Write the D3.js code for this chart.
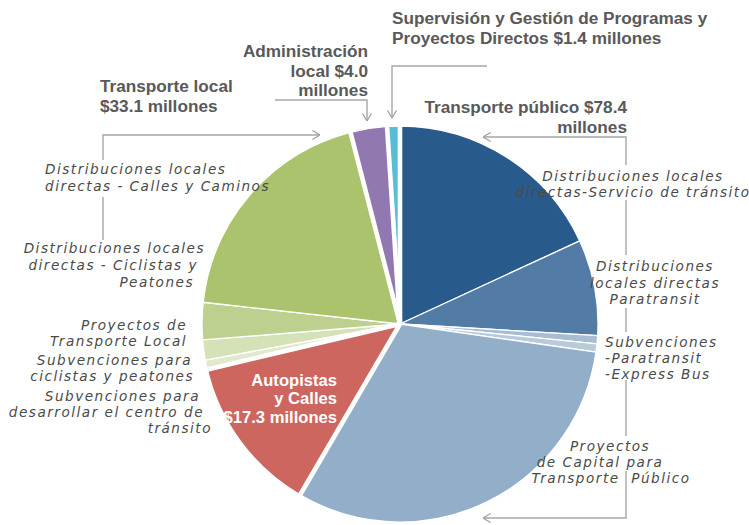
<!DOCTYPE html>
<html><head><meta charset="utf-8">
<script src="https://cdn.jsdelivr.net/npm/d3@7"></script>
<style>
body{margin:0;background:#fff}
.grp{font-family:"Liberation Sans",Arial,sans-serif;font-weight:700;font-size:17.2px;fill:#595959}
.grpw{font-family:"Liberation Sans",Arial,sans-serif;font-weight:700;font-size:16.6px;fill:#ffffff}
.sub{font-family:"DejaVu Sans",sans-serif;font-style:italic;font-weight:normal;font-size:13.6px;fill:#4a4a4a;letter-spacing:1.5px}
</style>
</head><body>
<svg id="c" width="749" height="525"></svg>
<script>
// ---------- DATA ----------
const groupNames = ["Transporte público", "Autopistas y Calles", "Transporte local", "Administración local", "Supervisión y Gestión de Programas y Proyectos Directos"];
const groupTotals = [78.4, 17.3, 33.1, 4.0, 1.4];
const groupLabelLines = [
  ["Transporte público $78.4", "millones"],
  ["Autopistas", "y Calles", "$17.3 millones"],
  ["Transporte local", "$33.1 millones"],
  ["Administración", "local $4.0", "millones"],
  ["Supervisión y Gestión de Programas y", "Proyectos Directos $1.4 millones"]
];
const sliceNames = [
  "Distribuciones locales directas-Servicio de tránsito",
  "Distribuciones locales directas Paratransit",
  "Subvenciones -Paratransit",
  "Subvenciones -Express Bus",
  "Proyectos de Capital para Transporte Público",
  "Autopistas y Calles",
  "Subvenciones para desarrollar el centro de tránsito",
  "Subvenciones para ciclistas y peatones",
  "Proyectos de Transporte Local",
  "Distribuciones locales directas - Ciclistas y Peatones",
  "Distribuciones locales directas - Calles y Caminos",
  "Administración local",
  "Supervisión y Gestión de Programas y Proyectos Directos"
];
const sliceGroup = [0, 0, 0, 0, 0, 1, 2, 2, 2, 2, 2, 3, 4];
const sliceValues = [24.3, 10.5, 0.9, 0.9, 41.8, 17.3, 0.1, 0.93, 2.2, 4.07, 25.8, 4.0, 1.4];
const subLabelLines = [
  ["Distribuciones locales", "directas-Servicio de tránsito"],
  ["Distribuciones", "locales directas", "Paratransit"],
  ["Subvenciones", "-Paratransit", "-Express Bus"],
  ["Proyectos", "de Capital para", "Transporte  Público"],
  ["Distribuciones locales", "directas - Calles y Caminos"],
  ["Distribuciones locales", "directas - Ciclistas y", "Peatones"],
  ["Proyectos de", "Transporte Local"],
  ["Subvenciones para", "ciclistas y peatones"],
  ["Subvenciones para", "desarrollar el centro de", "tránsito"]
];

// ---------- STYLE / LAYOUT ----------
const sliceColors = ["#285b8c", "#527ca6", "#a8bdd2", "#b9cadb", "#93aec8", "#cd665f",
  "#9fc3e0", "#e0e9cc", "#d5e2b8", "#bed08f", "#abc36c", "#9178b1", "#5bbdd5"];
const W = 749, H = 525, cx = 400, cy = 324, R = 198;

const svg = d3.select("#c");
const g = svg.append("g").attr("transform", `translate(${cx},${cy})`);

const slices = sliceNames.map((n, i) => ({name: n, value: sliceValues[i], group: sliceGroup[i]}));
const color = d3.scaleOrdinal().domain(sliceNames).range(sliceColors);
const pie = d3.pie().sort(null).value(d => d.value).startAngle(0).endAngle(2 * Math.PI);
const arc = d3.arc().innerRadius(0).outerRadius(R);

g.selectAll("path.s").data(pie(slices)).join("path")
  .attr("class", "s")
  .attr("d", arc)
  .attr("fill", d => color(d.data.name))
  .attr("stroke", "#fff").attr("stroke-width", 1.3).attr("stroke-linejoin", "round");

// group boundaries (white gaps)
const gpie = d3.pie().sort(null).value(d => d).startAngle(0).endAngle(2 * Math.PI);
const garcs = gpie(groupTotals);
g.selectAll("line.gap").data(garcs).join("line")
  .attr("class", "gap")
  .attr("x1", 0).attr("y1", 0)
  .attr("x2", d => (R + 3) * Math.sin(d.startAngle))
  .attr("y2", d => -(R + 3) * Math.cos(d.startAngle))
  .attr("stroke", "#fff").attr("stroke-width", 4.6);

// ---------- LEADERS ----------
svg.append("defs").append("marker")
  .attr("id", "ah").attr("viewBox", "0 0 10 12").attr("refX", 9.5).attr("refY", 6)
  .attr("markerWidth", 9).attr("markerHeight", 11).attr("markerUnits", "userSpaceOnUse")
  .attr("orient", "auto")
  .append("path").attr("d", "M1,1 L9.5,6 L1,11").attr("fill", "none")
  .attr("stroke", "#a0a0a0").attr("stroke-width", 1.3);

const lineStyle = sel => sel.attr("fill", "none").attr("stroke", "#a6a6a6").attr("stroke-width", 1.4);
const leaders = [
  {pts: [[487, 66], [392, 66], [392, 118]], arrow: true},
  {pts: [[275, 100], [367, 100], [367, 121]], arrow: true},
  {pts: [[103, 160], [103, 135], [320, 135]], arrow: true},
  {pts: [[103, 197], [103, 240]], arrow: false},
  {pts: [[626, 165], [626, 137], [483, 137]], arrow: true},
  {pts: [[626, 200], [626, 255]], arrow: false},
  {pts: [[626, 308], [626, 332]], arrow: false},
  {pts: [[626, 380], [626, 436]], arrow: false},
  {pts: [[626, 471], [626, 518], [483, 518]], arrow: true}
];
leaders.forEach(l => {
  svg.append("path").attr("d", d3.line()(l.pts)).call(lineStyle)
    .attr("marker-end", l.arrow ? "url(#ah)" : null);
});

// ---------- TEXT ----------
function block(lines, xs, ys, anchor, cls) {
  const t = svg.append("text").attr("class", cls).attr("xml:space", "preserve");
  lines.forEach((s, i) => {
    t.append("tspan").attr("x", Array.isArray(xs) ? xs[i] : xs).attr("y", ys[i])
      .attr("text-anchor", anchor).text(s);
  });
}
// group labels
block(groupLabelLines[4], 392, [24, 43.5], "start", "grp");
block(groupLabelLines[3], 368, [57, 76.5, 96], "end", "grp");
block(groupLabelLines[2], 100, [92, 112], "start", "grp");
block(groupLabelLines[0], 627, [113, 133], "end", "grp");
block(groupLabelLines[1], 337, [385.5, 404, 423], "end", "grpw");

// sub labels
block(subLabelLines[0], 633, [181, 197], "middle", "sub");
block(subLabelLines[1], 655, [271, 288, 304], "middle", "sub");
block(subLabelLines[2], 605, [347, 363, 379], "start", "sub");
block(subLabelLines[3], [610, 600, 611], [451, 467, 483], "middle", "sub");
block(subLabelLines[4], 45, [174, 191], "start", "sub");
block(subLabelLines[5], [205, 198, 194], [253, 270, 287], "end", "sub");
block(subLabelLines[6], [187, 187], [330, 346], "end", "sub");
block(subLabelLines[7], [192, 194], [365, 381], "end", "sub");
block(subLabelLines[8], [200, 204, 212], [401, 417, 433], "end", "sub");
</script>
</body></html>
